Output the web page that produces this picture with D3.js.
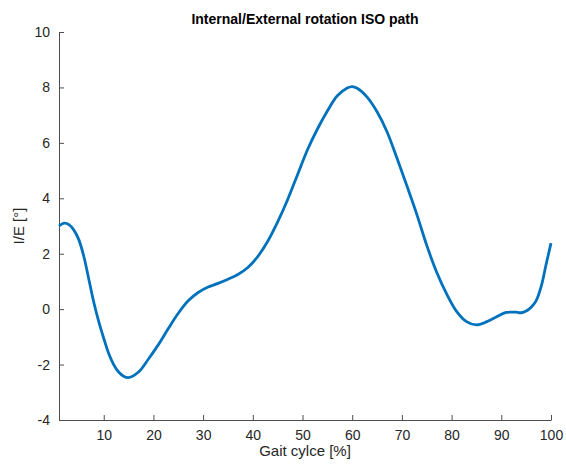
<!DOCTYPE html>
<html lang="en">
<head>
    <meta charset="UTF-8">
    <title>Internal/External rotation ISO path</title>
    <script src="https://cdn.jsdelivr.net/npm/d3@7"></script>
    <style>
        body { margin: 0; background: #fff; }
        text { font-family: "Liberation Sans", Arial, sans-serif; }
    </style>
</head>
<body>
    <div id="grafico"></div>
    <script type="text/javascript">

        // data
        var gait = [1, 2, 3, 4, 5, 6, 7, 8, 9, 10, 11, 12, 13, 14, 15, 17, 19, 21, 23, 25,
                    27, 29, 31, 33, 35, 37, 39, 41, 43, 45, 47, 49, 51, 53, 55, 57, 59, 60, 61, 63,
                    65, 67, 69, 71, 73, 75, 77, 79, 81, 83, 85, 87, 89, 91, 93, 94, 95, 96, 97, 98,
                    99, 100];
        var rotation = [3.0, 3.1, 3.05, 2.85, 2.5, 1.9, 1.08, 0.25, -0.45, -1.05, -1.6, -2.0, -2.27, -2.42, -2.47, -2.27, -1.8, -1.28, -0.7, -0.15,
                        0.3, 0.6, 0.8, 0.93, 1.08, 1.25, 1.5, 1.9, 2.45, 3.15, 3.95, 4.85, 5.75, 6.5, 7.15, 7.7, 7.98, 8.03, 7.97, 7.65,
                        7.12, 6.4, 5.45, 4.45, 3.42, 2.3, 1.33, 0.55, -0.08, -0.45, -0.57, -0.46, -0.28, -0.12, -0.11, -0.13, -0.07, 0.07, 0.3, 0.8,
                        1.6, 2.38];
        var xTicks = [10, 20, 30, 40, 50, 60, 70, 80, 90, 100];
        var yTicks = [-4, -2, 0, 2, 4, 6, 8, 10];

        var w = 566, h = 469;
        var mLeft = 59, mRight = 551, mTop = 32, mBottom = 420;

        var xScale = d3.scaleLinear().domain([1, 100]).range([mLeft, mRight]);
        var yScale = d3.scaleLinear().domain([-4, 10]).range([mBottom, mTop]);

        var svg = d3.select("#grafico").append("svg")
            .attr("width", w)
            .attr("height", h);

        // axes, MATLAB style ticks pointing inward, plain hyphen for negatives
        var fmt = function(d) { return String(d); };
        var xAxis = svg.append("g")
            .attr("transform", "translate(0," + mBottom + ")")
            .call(d3.axisBottom(xScale).tickValues(xTicks).tickFormat(fmt)
                .tickSizeInner(-5).tickSizeOuter(0).tickPadding(10));
        var yAxis = svg.append("g")
            .attr("transform", "translate(" + mLeft + ",0)")
            .call(d3.axisLeft(yScale).tickValues(yTicks).tickFormat(fmt)
                .tickSizeInner(-5).tickSizeOuter(0).tickPadding(9));

        [xAxis, yAxis].forEach(function(g) {
            g.select(".domain").attr("stroke", "#4d4d4d").attr("stroke-width", 1);
            g.selectAll(".tick line").attr("stroke", "#4d4d4d");
            g.selectAll("text")
                .attr("fill", "#262626")
                .attr("font-size", "14px")
                .attr("font-family", "Liberation Sans, Arial, sans-serif");
        });

        // curve
        var line = d3.line()
            .x(function(d, i) { return xScale(gait[i]); })
            .y(function(d) { return yScale(d); })
            .curve(d3.curveCatmullRom.alpha(0.5));

        svg.append("path")
            .datum(rotation)
            .attr("d", line)
            .attr("fill", "none")
            .attr("stroke", "#0072BD")
            .attr("stroke-width", 2.8)
            .attr("stroke-linejoin", "round");

        // labels
        svg.append("text")
            .attr("x", (mLeft + mRight) / 2)
            .attr("y", 24)
            .attr("text-anchor", "middle")
            .attr("font-size", "14px")
            .attr("font-weight", "bold")
            .attr("fill", "#000")
            .text("Internal/External rotation ISO path");

        svg.append("text")
            .attr("x", (mLeft + mRight) / 2)
            .attr("y", 456)
            .attr("text-anchor", "middle")
            .attr("font-size", "15px")
            .attr("fill", "#262626")
            .text("Gait cylce [%]");

        svg.append("text")
            .attr("transform", "translate(24," + (mTop + mBottom) / 2 + ") rotate(-90)")
            .attr("text-anchor", "middle")
            .attr("font-size", "15px")
            .attr("fill", "#262626")
            .text("I/E [°]");

    </script>
</body>
</html>
